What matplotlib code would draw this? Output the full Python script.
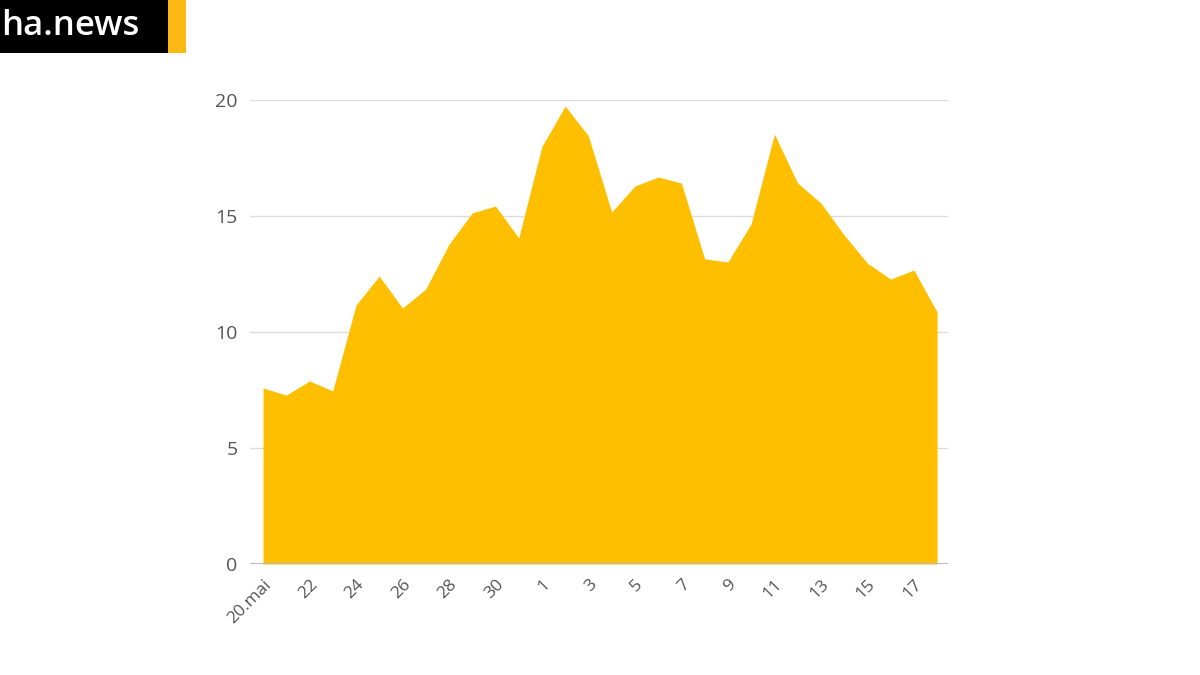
import matplotlib
matplotlib.use("Agg")
import matplotlib.pyplot as plt
from matplotlib.patches import Rectangle

plt.rcParams['font.family'] = ['Open Sans', 'DejaVu Sans']

days = ["20.mai", "21", "22", "23", "24", "25", "26", "27", "28", "29", "30", "31",
        "1", "2", "3", "4", "5", "6", "7", "8", "9", "10", "11", "12", "13", "14",
        "15", "16", "17", "18"]
values = [7.59, 7.28, 7.89, 7.46, 11.16, 12.41, 11.03, 11.85, 13.78, 15.13, 15.43, 14.05,
          18.0, 19.74, 18.45, 15.17, 16.29, 16.68, 16.42, 13.15, 13.02, 14.66, 18.53,
          16.42, 15.56, 14.18, 12.97, 12.28, 12.67, 10.86]
yticks = [0, 5, 10, 15, 20]

fig = plt.figure(figsize=(12, 6.75), dpi=100)
ax = fig.add_axes([250/1200, 1 - 564/675, (948-250)/1200, (564-100)/675])

x = list(range(len(days)))
ax.fill_between(x, values, 0, color="#FDBF00", linewidth=0, zorder=2)

ax.set_xlim(-0.56, len(days) - 1 + 0.47)
ax.set_ylim(0, 20)
ax.set_yticks(yticks)
ax.set_yticklabels([str(t) for t in yticks])
ax.grid(axis='y', color="#dddddd", linewidth=1, zorder=0)
ax.axhline(0, color="#bbbbbb", linewidth=1.5, zorder=3)
for s in ax.spines.values():
    s.set_visible(False)
ax.tick_params(axis='y', length=0, pad=9, labelsize=14, labelcolor="#555555")
ax.set_xticks(x[::2])
ax.set_xticklabels(days[::2], rotation=45, ha='right', va='top', rotation_mode='anchor')
ax.tick_params(axis='x', length=0, pad=9, labelsize=12.5, labelcolor="#555555")

# logo
fig.patches.append(Rectangle((0, 1 - 53/675), 168/1200, 53/675, transform=fig.transFigure,
                             facecolor="black", edgecolor="none", zorder=5))
fig.patches.append(Rectangle((168/1200, 1 - 53/675), 18/1200, 53/675, transform=fig.transFigure,
                             facecolor="#FDB813", edgecolor="none", zorder=5))
fig.text(1/1200, 1 - 26/675, "ha.news", color="white", fontsize=25, fontweight='semibold',
         ha='left', va='center', zorder=6)

fig.savefig("out.png", dpi=100, facecolor="white")
